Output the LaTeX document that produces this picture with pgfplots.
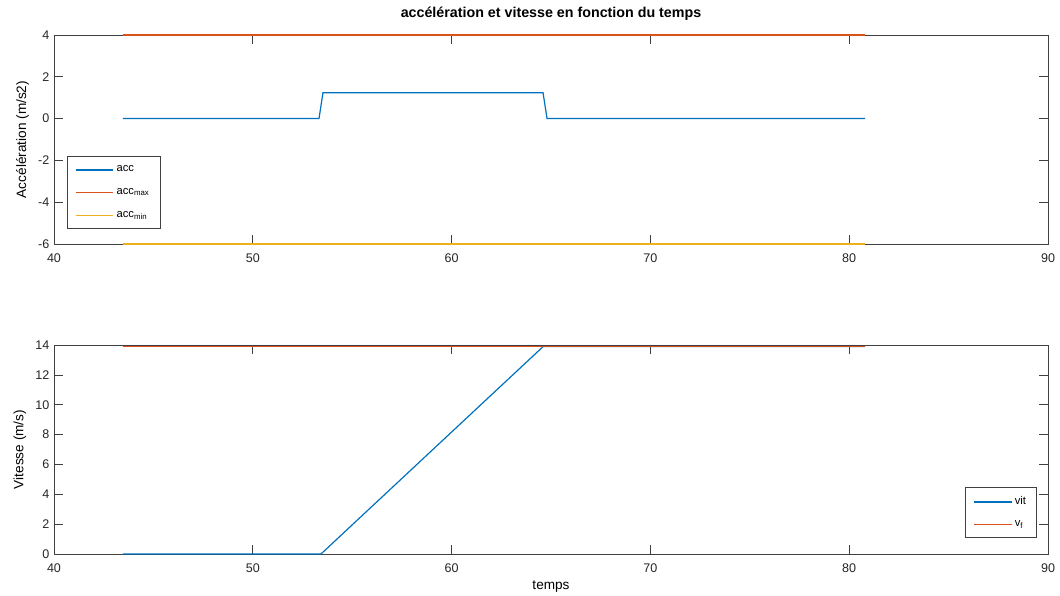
\documentclass[border=0pt]{standalone}
\usepackage{pgfplots}
\pgfplotsset{compat=1.18}
\usepackage{fontspec}
\setmainfont{Liberation Sans}
\definecolor{mblue}{rgb}{0,0.447,0.741}
\definecolor{morange}{rgb}{0.85,0.325,0.098}
\definecolor{myellow}{rgb}{0.929,0.694,0.125}
\definecolor{axgray}{gray}{0.25}
\pgfplotsset{
  mstyle/.style={
    scale only axis, width=745.5pt, height=156.75pt,
    xmin=40, xmax=90, xtick={40,50,...,90},
    clip mode=individual,
    tick align=inside, major tick length=7pt,
    xtick pos=both, ytick pos=both,
    axis line style={axgray, line width=0.5pt},
    tick style={axgray, line width=0.5pt},
    every tick label/.append style={font=\fontsize{9.4}{11}\selectfont, text=black!85},
    xticklabel style={yshift=-4pt},
    label style={font=\fontsize{10.2}{12}\selectfont},
    /pgf/number format/assume math mode=true,
    legend cell align=left,
    legend style={font=\fontsize{8.4}{10}\selectfont, draw=axgray, line width=0.5pt,
      inner xsep=6pt, inner ysep=5pt, row sep=7pt},
    legend image code/.code={\draw[#1, line width=1pt] (0pt,0pt) -- (28pt,0pt);},
  }
}
\begin{document}
\begin{tikzpicture}
\path[use as bounding box] (-40.5pt,-264pt) rectangle (754.5pt,183pt);
\begin{axis}[mstyle, at={(0,0)}, anchor=south west,
  ymin=-6, ymax=4, ytick={-6,-4,...,4},
  ylabel={Accélération (m/s2)},
  title={\bfseries accélération et vitesse en fonction du temps},
  title style={font=\fontsize{10.7}{12}\selectfont, yshift=1pt},
  legend style={at={(0.013,0.072)}, anchor=south west}]
\addplot[mblue, line width=0.9pt] coordinates {
  (43.47,0) (53.33,0) (53.53,1.24) (64.6,1.24) (64.8,0) (80.8,0)};
\addlegendentry{acc}
\addplot[morange, line width=0.9pt, clip=false] coordinates {(43.47,4) (80.8,4)};
\addlegendentry{acc\textsubscript{max}}
\addplot[myellow, line width=0.9pt, clip=false] coordinates {(43.47,-6) (80.8,-6)};
\addlegendentry{acc\textsubscript{min}}
\end{axis}
\begin{axis}[mstyle, at={(0,-75.75pt)}, anchor=north west,
  ymin=0, ymax=14, ytick={0,2,...,14},
  ylabel={Vitesse (m/s)},
  xlabel={temps}, xlabel style={yshift=1pt},
  legend style={at={(0.989,0.077)}, anchor=south east, row sep=6pt}]
\addplot[mblue, line width=0.9pt] coordinates {
  (43.47,0) (53.43,0) (64.6,13.89) (80.8,13.89)};
\addlegendentry{vit}
\addplot[morange, line width=0.9pt] coordinates {(43.47,13.89) (80.8,13.89)};
\addlegendentry{v\textsubscript{f}}
\end{axis}
\end{tikzpicture}
\end{document}
